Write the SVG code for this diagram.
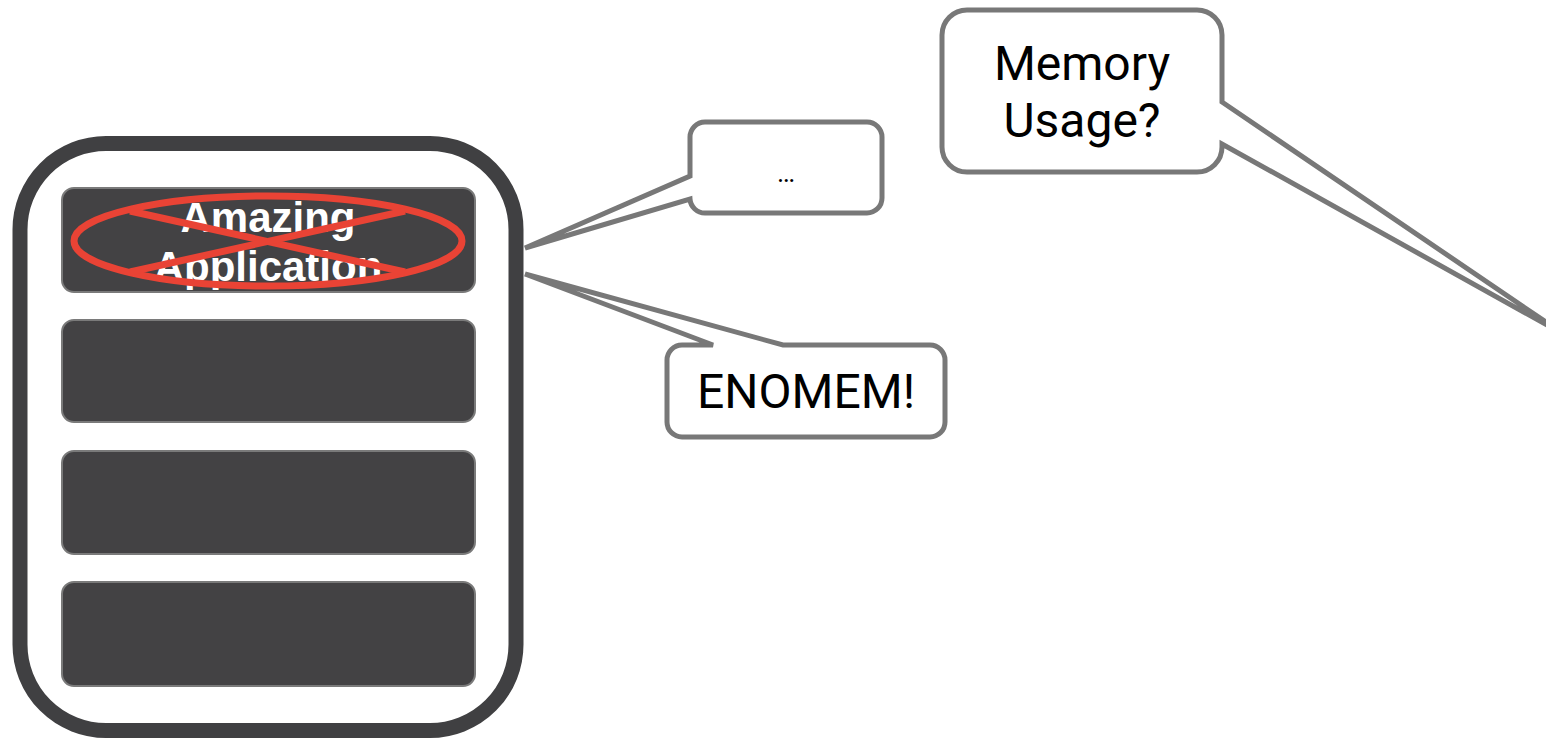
<svg xmlns="http://www.w3.org/2000/svg" width="1546" height="739" viewBox="0 0 1546 739">
<style>
.bar{fill:#434244;stroke:#7a7a7a;stroke-width:2}
.callout{fill:#ffffff;stroke:#787878;stroke-width:5;stroke-linejoin:miter}
.ct{font-family:Roboto,"Liberation Sans",sans-serif;fill:#000;text-anchor:middle}
.app{font-family:"Liberation Sans",Arial,sans-serif;font-weight:bold;font-size:42px;fill:#fff;text-anchor:middle}
.cross{fill:none;stroke:#e94335;stroke-width:7}
</style>
<rect width="1546" height="739" fill="#ffffff"/>
<g id="container">
<rect x="20" y="143.5" width="496" height="587" rx="86" fill="#ffffff" stroke="#404042" stroke-width="15"/>
</g>
<g id="bar1">
<rect class="bar" x="62" y="188" width="413" height="104" rx="12"/>
<text class="app" x="268" y="232">Amazing</text>
<text class="app" x="268" y="281">Application</text>
<ellipse class="cross" cx="268" cy="241" rx="194" ry="45"/>
<line class="cross" x1="130" y1="211" x2="405" y2="272"/>
<line class="cross" x1="405" y1="211" x2="130" y2="272"/>
</g>
<g id="bar2"><rect class="bar" x="62" y="320" width="413" height="102" rx="12"/></g>
<g id="bar3"><rect class="bar" x="62" y="451" width="413" height="103" rx="12"/></g>
<g id="bar4"><rect class="bar" x="62" y="582" width="413" height="104" rx="12"/></g>
<g id="connectors"></g>
<g id="callout-ellipsis">
<path class="callout" d="M705,122 H867 A15,15 0 0 1 882,137 V198 A15,15 0 0 1 867,213 H705 A15,15 0 0 1 690,199 L525,248 L690,176 V137 A15,15 0 0 1 705,122 Z"/>
<text class="ct" x="786" y="182" font-size="27">…</text>
</g>
<g id="callout-enomem">
<path class="callout" d="M682,345 H713 L525,274 L783,345 H930 A15,15 0 0 1 945,360 V422 A15,15 0 0 1 930,437 H682 A15,15 0 0 1 667,422 V360 A15,15 0 0 1 682,345 Z"/>
<text class="ct" x="806" y="408" font-size="48">ENOMEM!</text>
</g>
<g id="callout-memory">
<path class="callout" d="M967,10 H1197 A25,25 0 0 1 1222,35 V102 L1565,335 L1222,144 V147 A25,25 0 0 1 1197,172 H967 A25,25 0 0 1 942,147 V35 A25,25 0 0 1 967,10 Z"/>
<text class="ct" x="1082" y="80" font-size="48">Memory</text>
<text class="ct" x="1082" y="137" font-size="48">Usage?</text>
</g>
</svg>
